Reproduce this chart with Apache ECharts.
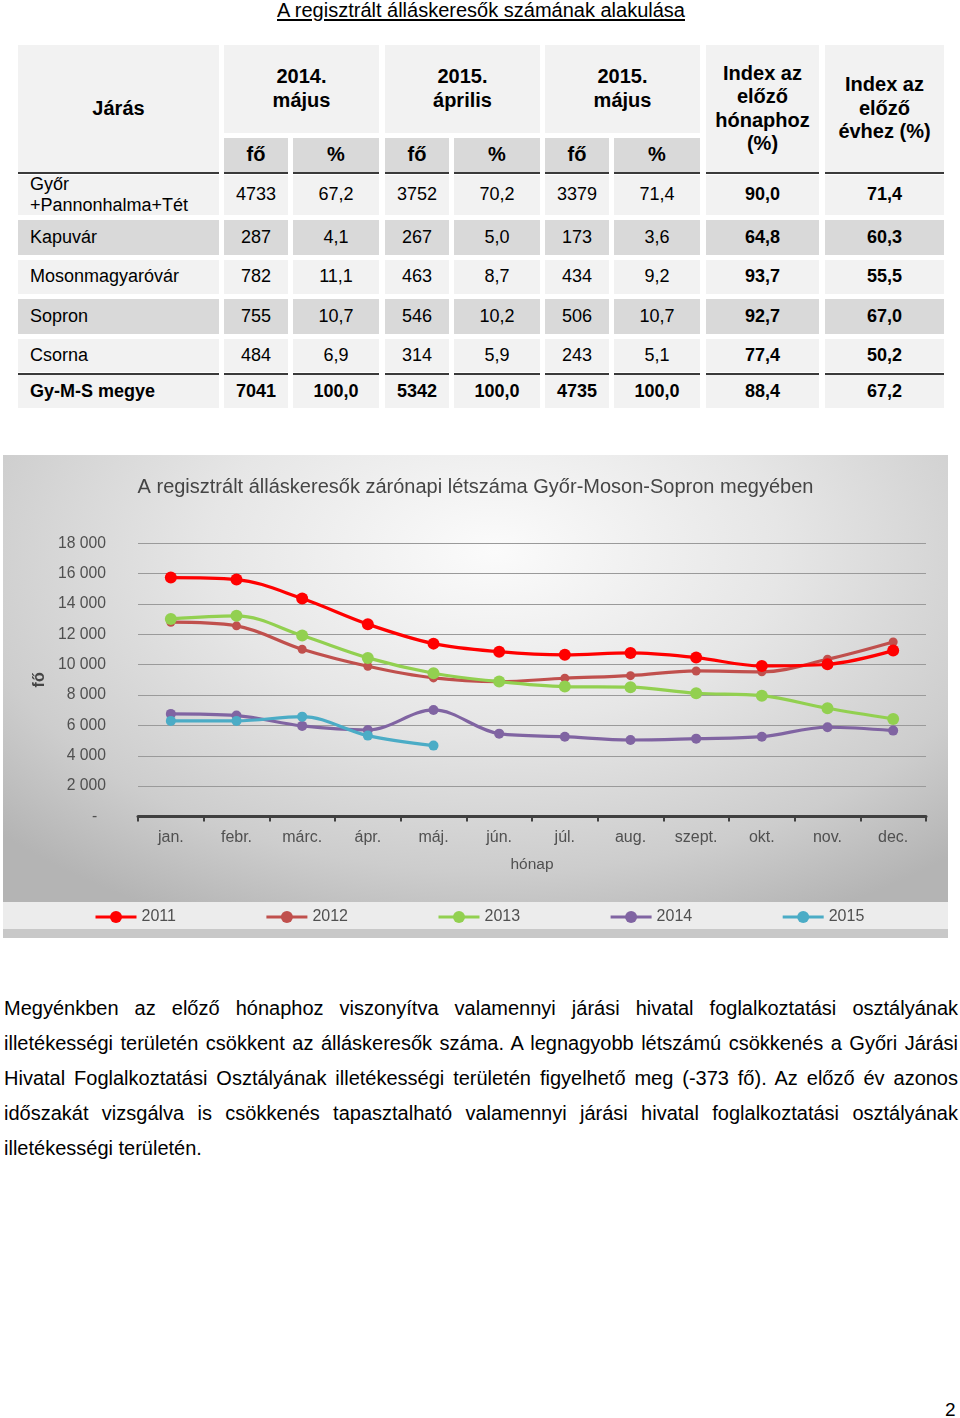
<!DOCTYPE html>
<html><head><meta charset="utf-8">
<script src="https://cdn.jsdelivr.net/npm/echarts@6/dist/echarts.min.js"></script>
<style>
html,body{margin:0;padding:0}
body{width:960px;height:1418px;position:relative;background:#fff;font-family:"Liberation Sans",Arial,sans-serif;color:#000;overflow:hidden}
#title{position:absolute;left:0;width:962px;top:-2px;text-align:center;font-size:20px;line-height:24px;text-decoration:underline;text-underline-offset:2px}
.cell{position:absolute;box-sizing:border-box;display:flex;align-items:center;justify-content:center;text-align:center;font-size:18px}
.hdr{font-weight:bold;font-size:20px;line-height:23.5px}
.line{position:absolute;background:#3a3a3a}
#chartWrap{position:absolute;left:3px;top:455px;width:945px;height:483px;
 background:radial-gradient(ellipse 72% 85% at 52% 20%, #fbfbfb 0%, #e6e6e6 42%, #cdcdcd 78%, #b4b4b4 100%)}
#chart{width:945px;height:483px}
#para{position:absolute;left:4px;top:991px;width:954px;font-size:20px;line-height:35px}
#para div{text-align:justify;text-align-last:justify;white-space:nowrap}
#para div.last{text-align-last:left}
#pnum{position:absolute;left:945px;top:1399px;font-size:19px}
</style></head>
<body>
<div id="title">A regisztrált álláskeresők számának alakulása</div>
<div id="table"></div>
<div id="chartWrap"><div id="chart"></div></div>
<div id="para"></div>
<div id="pnum">2</div>
<script>
// ---- table data ----
const districts = ['Győr<br>+Pannonhalma+Tét', 'Kapuvár', 'Mosonmagyaróvár', 'Sopron', 'Csorna', 'Gy-M-S megye'];
const fo2014May = ['4733', '287', '782', '755', '484', '7041'];
const pct2014May = ['67,2', '4,1', '11,1', '10,7', '6,9', '100,0'];
const fo2015Apr = ['3752', '267', '463', '546', '314', '5342'];
const pct2015Apr = ['70,2', '5,0', '8,7', '10,2', '5,9', '100,0'];
const fo2015May = ['3379', '173', '434', '506', '243', '4735'];
const pct2015May = ['71,4', '3,6', '9,2', '10,7', '5,1', '100,0'];
const idxMonth = ['90,0', '64,8', '93,7', '92,7', '77,4', '88,4'];
const idxYear = ['71,4', '60,3', '55,5', '67,0', '50,2', '67,2'];
const periodHeaders = ['2014.<br>május', '2015.<br>április', '2015.<br>május'];
const subHeaders = ['fő', '%'];
const idxHeaders = ['Index az<br>előző<br>hónaphoz<br>(%)', 'Index az<br>előző<br>évhez (%)'];
const firstHeader = 'Járás';

// ---- chart data ----
const chartTitle = 'A regisztrált álláskeresők zárónapi létszáma Győr-Moson-Sopron megyében';
const months = ['jan.', 'febr.', 'márc.', 'ápr.', 'máj.', 'jún.', 'júl.', 'aug.', 'szept.', 'okt.', 'nov.', 'dec.'];
const seriesNames = ['2011', '2012', '2013', '2014', '2015'];
const y2011 = [15740, 15610, 14360, 12670, 11390, 10860, 10650, 10780, 10470, 9920, 10030, 10930];
const y2012 = [12800, 12560, 11020, 9900, 9130, 8890, 9110, 9280, 9590, 9530, 10360, 11500];
const y2013 = [13020, 13220, 11920, 10450, 9440, 8890, 8560, 8520, 8120, 7960, 7130, 6430];
const y2014 = [6760, 6650, 5970, 5700, 7020, 5460, 5260, 5040, 5130, 5260, 5880, 5660];
const y2015 = [6300, 6300, 6580, 5330, 4670];
const yAxisName = 'fő';
const xAxisName = 'hónap';

// ---- paragraph ----
const paraLines = [
 'Megyénkben az előző hónaphoz viszonyítva valamennyi járási hivatal foglalkoztatási osztályának',
 'illetékességi területén csökkent az álláskeresők száma. A legnagyobb létszámú csökkenés a Győri Járási',
 'Hivatal Foglalkoztatási Osztályának illetékességi területén figyelhető meg (-373 fő). Az előző év azonos',
 'időszakát vizsgálva is csökkenés tapasztalható valamennyi járási hivatal foglalkoztatási osztályának',
 'illetékességi területén.'
];

// ---- build table (layout) ----
const tbl = document.getElementById('table');
function cell(x, y, w, h, html, bg, cls, extra) {
  const d = document.createElement('div');
  d.className = 'cell ' + (cls || '');
  d.style.left = x + 'px'; d.style.top = y + 'px';
  d.style.width = w + 'px'; d.style.height = h + 'px';
  d.style.background = bg;
  if (extra) Object.assign(d.style, extra);
  d.innerHTML = html;
  tbl.appendChild(d);
  return d;
}
const colX = [18, 224, 293, 385, 454, 545, 614, 706, 825];
const colW = [201, 64, 86, 64, 86, 64, 86, 113, 119];
const light = '#f2f2f2', gray = '#d9d9d9';
cell(colX[0], 45, colW[0], 127, firstHeader, light, 'hdr');
for (let i = 0; i < 3; i++) {
  const x0 = colX[1 + 2 * i], x1 = colX[2 + 2 * i] + colW[2 + 2 * i];
  cell(x0, 45, x1 - x0, 87.5, periodHeaders[i], light, 'hdr');
  cell(colX[1 + 2 * i], 137.5, colW[1 + 2 * i], 34.5, subHeaders[0], gray, 'hdr');
  cell(colX[2 + 2 * i], 137.5, colW[2 + 2 * i], 34.5, subHeaders[1], gray, 'hdr');
}
cell(colX[7], 45, colW[7], 127, idxHeaders[0], light, 'hdr');
cell(colX[8], 45, colW[8], 127, idxHeaders[1], light, 'hdr');
const rowY = [174.5, 220, 259.5, 298.5, 338.5, 374.5];
const rowH = [40.5, 34.5, 34, 35, 33.5, 33.5];
const rowBg = [light, gray, light, gray, light, light];
const cols = [districts, fo2014May, pct2014May, fo2015Apr, pct2015Apr, fo2015May, pct2015May, idxMonth, idxYear];
for (let r = 0; r < districts.length; r++) {
  const total = r === districts.length - 1;
  for (let c = 0; c < cols.length; c++) {
    const extra = {};
    if (total || c >= 7) extra.fontWeight = 'bold';
    if (c === 0) { extra.justifyContent = 'flex-start'; extra.textAlign = 'left'; extra.paddingLeft = '12px'; extra.lineHeight = '21px'; }
    cell(colX[c], rowY[r], colW[c], rowH[r], cols[c][r], rowBg[r], '', extra);
  }
}
for (let c = 0; c < 9; c++) {
  for (const ly of [172, 372.5]) {
    const l = document.createElement('div');
    l.className = 'line';
    l.style.left = colX[c] + 'px'; l.style.width = colW[c] + 'px';
    l.style.top = ly + 'px'; l.style.height = '2px';
    tbl.appendChild(l);
  }
}

// ---- paragraph ----
const para = document.getElementById('para');
paraLines.forEach((t, i) => {
  const d = document.createElement('div');
  if (i === paraLines.length - 1) d.className = 'last';
  d.textContent = t;
  para.appendChild(d);
});

// ---- chart ----
const chart = echarts.init(document.getElementById('chart'), null, { renderer: 'canvas' });
const txt = '#505050';
const font = '"Liberation Sans", Arial, sans-serif';
function fmt(v) {
  if (v === 0) return '-  ';
  return String(v).replace(/\B(?=(\d{3})+(?!\d))/g, ' ');
}
const styles = [
  { color: '#ff0000', size: 12 },
  { color: '#c0504d', size: 9 },
  { color: '#92d050', size: 12 },
  { color: '#8064a2', size: 10 },
  { color: '#4bacc6', size: 10 }
];
const dataSets = [y2011, y2012, y2013, y2014, y2015];
chart.setOption({
  backgroundColor: 'transparent',
  animation: false,
  textStyle: { fontFamily: font },
  title: {
    text: chartTitle, left: 'center', top: 17,
    textStyle: { fontSize: 20, fontWeight: 'normal', color: '#454545', fontFamily: font }
  },
  graphic: [
    { type: 'rect', left: 0, top: 447, shape: { width: 945, height: 27 }, style: { fill: '#ececec' }, z: -10 },
    { type: 'rect', left: 0, top: 474, shape: { width: 945, height: 9 }, style: { fill: '#c8c8c8' }, z: -10 }
  ],
  legend: {
    data: seriesNames, left: 86, top: 449, itemWidth: 41, itemHeight: 15, itemGap: 89,
    lineStyle: { width: 3 },
    textStyle: { fontSize: 16, color: txt, fontFamily: font }
  },
  grid: { left: 135, right: 22, top: 88.3, bottom: 121.5, containLabel: false },
  xAxis: {
    type: 'category', data: months, boundaryGap: true,
    name: xAxisName, nameLocation: 'middle', nameGap: 40,
    nameTextStyle: { fontSize: 15.5, color: txt, fontFamily: font },
    axisLine: { lineStyle: { color: '#404040', width: 3 } },
    axisTick: { show: true, length: 5, lineStyle: { color: '#404040', width: 2 } },
    axisLabel: { fontSize: 16, color: txt, margin: 13, fontFamily: font }
  },
  yAxis: {
    type: 'value', min: 0, max: 18000, interval: 2000,
    name: yAxisName, nameLocation: 'middle', nameGap: 90, nameRotate: 90,
    nameTextStyle: { fontSize: 16, fontWeight: 'bold', color: '#454545', fontFamily: font },
    axisLine: { show: false }, axisTick: { show: false },
    axisLabel: { fontSize: 15.7, color: txt, margin: 32, formatter: fmt, fontFamily: font },
    splitLine: { lineStyle: { color: '#9a9a9a', width: 1.2 } }
  },
  series: dataSets.map((d, i) => ({
    name: seriesNames[i], type: 'line', data: d, smooth: 0.35,
    symbol: 'circle', symbolSize: styles[i].size,
    lineStyle: { color: styles[i].color, width: 3.2 },
    itemStyle: { color: styles[i].color },
    z: 2 + (i === 0 ? 5 : 0)
  }))
});
</script>
</body></html>
